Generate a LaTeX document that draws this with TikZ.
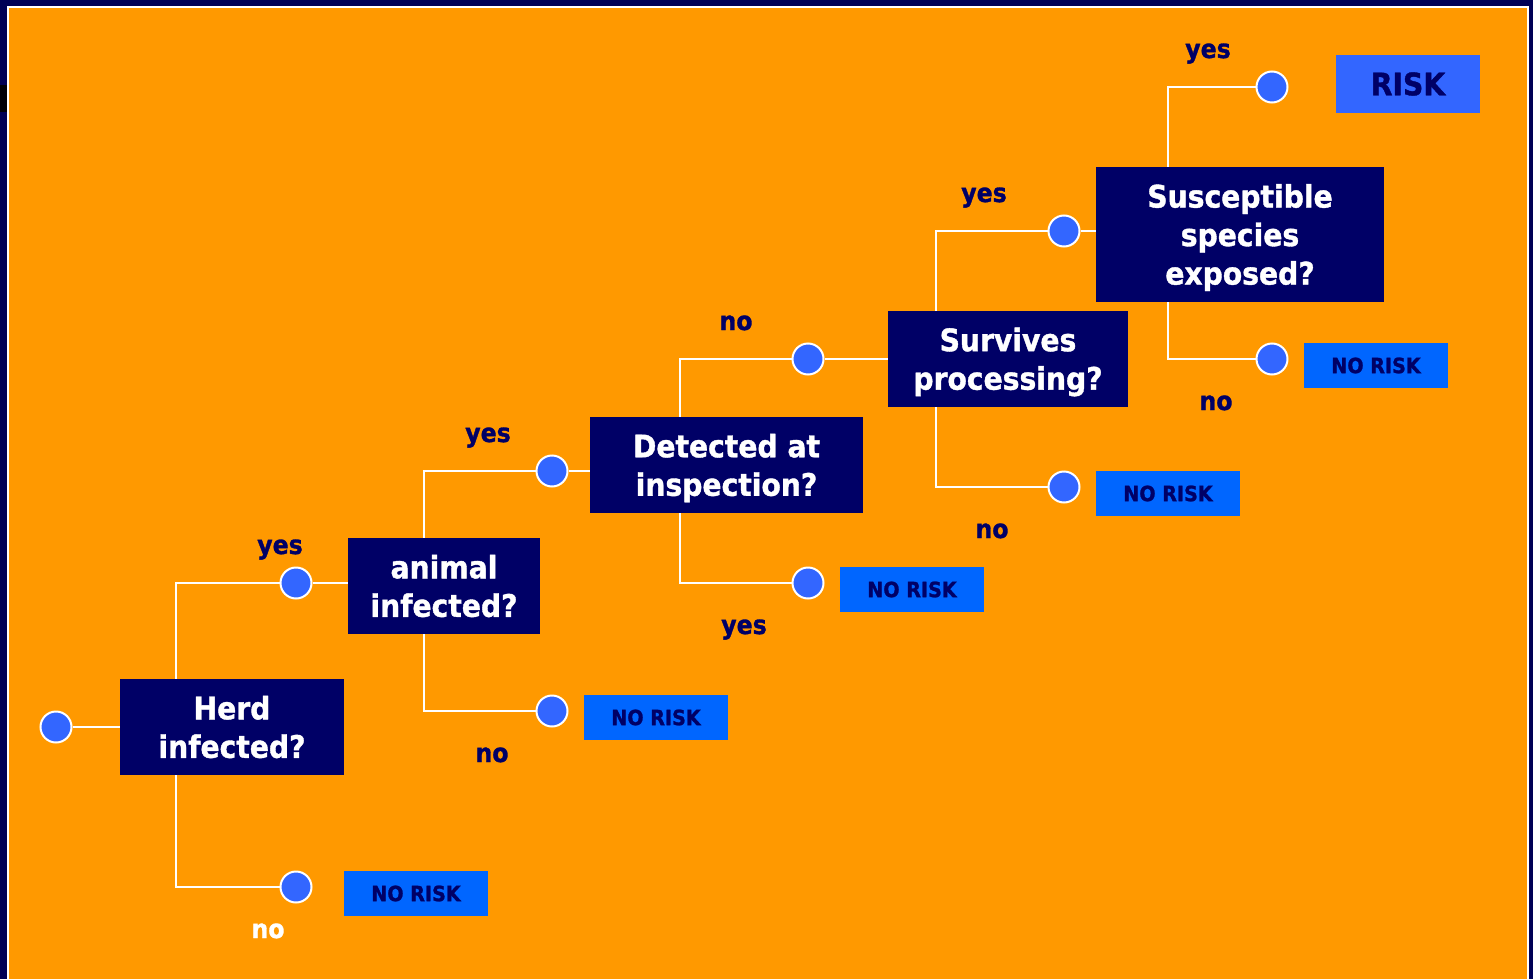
\documentclass[tikz,border=0pt]{standalone}
\usepackage{fontspec}
\newfontfamily\tah[FakeStretch=0.91, FakeBold=1.2]{DejaVu Sans Bold}
\definecolor{navy}{HTML}{000066}
\definecolor{frame}{HTML}{000055}
\definecolor{bg}{HTML}{FF9900}
\definecolor{dot}{HTML}{3366FF}
\definecolor{norisk}{HTML}{0066FF}
\tikzset{
  wire/.style={draw=white, line width=2pt},
  question/.style={fill=navy, inner sep=0pt},
  qtext/.style={text=white, inner sep=0pt, align=center,
    font=\tah\fontsize{31}{38.5}\selectfont},
  leaf/.style={fill=norisk, text=navy, inner sep=0pt, minimum width=144pt,
    minimum height=45pt, font=\tah\fontsize{21}{25}\selectfont},
  riskbox/.style={fill=dot, text=navy, inner sep=0pt, minimum width=144pt,
    minimum height=58pt, font=\tah\fontsize{31}{36}\selectfont},
  chance/.style={circle, fill=dot, draw=white, line width=2pt, inner sep=0pt,
    minimum size=31pt},
  branch/.style={text=navy, inner sep=0pt, text height=16pt, text depth=0pt,
    font=\tah\fontsize{26}{30}\selectfont},
}
\begin{document}
\begin{tikzpicture}[x=1pt, y=-1pt]
\useasboundingbox (0,0) rectangle (1533,979);
% slide frame and background
\fill[frame] (0,0) rectangle (1533,979);
\fill[black!92!frame] (0,85) rectangle (7,112);
\fill[white] (7,6) rectangle (1529,979);
\fill[bg] (9,8) rectangle (1527,979);

% corners of the vertical branch lines
\coordinate (j1) at (176,0);
\coordinate (j2) at (424,0);
\coordinate (j3) at (680,0);
\coordinate (j4) at (936,0);
\coordinate (j5) at (1168,0);

% chance nodes
\node[chance] (c0) at (56,727) {};
\node[chance] (y1) at (296,583) {};
\node[chance] (n1) at (296,887) {};
\node[chance] (y2) at (552,471) {};
\node[chance] (n2) at (552,711) {};
\node[chance] (y3) at (808,359) {};
\node[chance] (n3) at (808,583) {};
\node[chance] (y4) at (1064,231) {};
\node[chance] (n4) at (1064,487) {};
\node[chance] (y5) at (1272,87) {};
\node[chance] (n5) at (1272,359) {};

% branch wiring (drawn under the question boxes)
\draw[wire] (y1.west) -- (y1.west -| j1) -- (n1.west -| j1) -- (n1.west);
\draw[wire] (y2.west) -- (y2.west -| j2) -- (n2.west -| j2) -- (n2.west);
\draw[wire] (y3.west) -- (y3.west -| j3) -- (n3.west -| j3) -- (n3.west);
\draw[wire] (y4.west) -- (y4.west -| j4) -- (n4.west -| j4) -- (n4.west);
\draw[wire] (y5.west) -- (y5.west -| j5) -- (n5.west -| j5) -- (n5.west);

% question boxes
\node[question, minimum width=224pt, minimum height=96pt] (herd) at (232,727) {};
\node[question, minimum width=192pt, minimum height=96pt] (animal) at (444,586) {};
\node[question, minimum width=273pt, minimum height=96pt] (detect) at (726.5,465) {};
\node[question, minimum width=240pt, minimum height=96pt] (surv) at (1008,359) {};
\node[question, minimum width=288pt, minimum height=135pt] (susc) at (1240,234.5) {};

% question texts
\node[qtext] (herdT) at (herd.center) {Herd\\infected?};
\node[qtext] (animalT) at (animal.center) {animal\\infected?};
\node[qtext] (detectT) at ([yshift=-3pt]detect.center) {Detected at\\inspection?};
\node[qtext] (survT) at ([yshift=-3pt]surv.center) {Survives\\processing?};
\node[qtext] (suscT) at ([yshift=-3pt]susc.center) {Susceptible\\species\\exposed?};

% links from chance nodes into the questions
\draw[wire] (c0.east) -- (herd.west |- c0.east);
\draw[wire] (y1.east) -- (animal.west |- y1.east);
\draw[wire] (y2.east) -- (detect.west |- y2.east);
\draw[wire] (y3.east) -- (surv.west |- y3.east);
\draw[wire] (y4.east) -- (susc.west |- y4.east);

% outcomes
\node[leaf] (o1) at (416,893.5) {NO RISK};
\node[leaf] (o2) at (656,717.5) {NO RISK};
\node[leaf] (o3) at (912,589.5) {NO RISK};
\node[leaf] (o4) at (1168,493.5) {NO RISK};
\node[leaf] (o5) at (1376,365.5) {NO RISK};
\node[riskbox] (risk) at (1408,84) {RISK};

% branch labels
\node[branch] (ly1) at (280,546) {yes};
\node[branch, text=white] (ln1) at (268,930) {no};
\node[branch] (ly2) at (488,434) {yes};
\node[branch] (ln2) at (492,754) {no};
\node[branch] (ln3) at (736,322) {no};
\node[branch] (ly3) at (744,626) {yes};
\node[branch] (ly4) at (984,194) {yes};
\node[branch] (ln4) at (992,530) {no};
\node[branch] (ly5) at (1208,50) {yes};
\node[branch] (ln5) at (1216,402) {no};
\end{tikzpicture}
\end{document}
